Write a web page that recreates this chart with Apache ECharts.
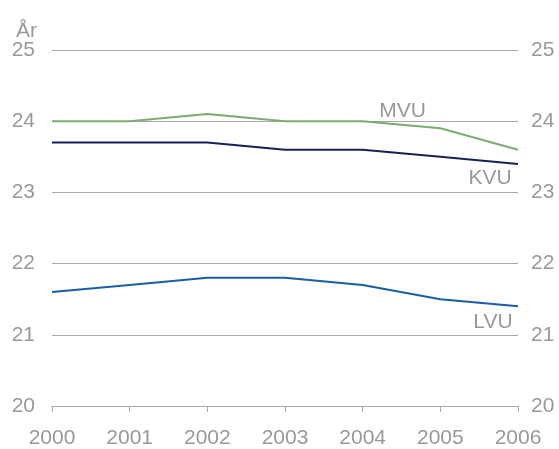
<!DOCTYPE html>
<html>
<head>
<meta charset="utf-8">
<script src="https://cdn.jsdelivr.net/npm/echarts@6/dist/echarts.min.js"></script>
<style>
  html, body { margin: 0; padding: 0; background: #fff; }
  #chart { width: 559px; height: 449px; }
</style>
</head>
<body>
<div id="chart"></div>
<script>
var years = ['2000', '2001', '2002', '2003', '2004', '2005', '2006'];
var mvu = [24.0, 24.0, 24.1, 24.0, 24.0, 23.9, 23.6];
var kvu = [23.7, 23.7, 23.7, 23.6, 23.6, 23.5, 23.4];
var lvu = [21.6, 21.7, 21.8, 21.8, 21.7, 21.5, 21.4];

var myChart = echarts.init(document.getElementById('chart'));

var grey = '#999999';
var font = 'Liberation Sans, Arial, sans-serif';
var fs = 21;

// series name label, anchored at a category index and shifted sideways
var label_point = function(text, idx, y, dx){
    return {
        symbol: 'circle',
        symbolSize: 0,
        silent: true,
        data: [{
            coord: [idx, y],
            value: text,
            label: {
                show: true,
                position: 'inside',
                offset: [dx, 0],
                formatter: text,
                color: grey,
                fontSize: fs,
                fontFamily: font
            }
        }]
    };
};

var option = {
    animation: false,
    grid: {left: 52, right: 41, top: 50, bottom: 41},
    title: {
        text: 'År',
        left: 11,
        top: 16,
        textStyle: {color: grey, fontSize: fs, fontWeight: 'normal', fontFamily: font}
    },
    xAxis: {
        type: 'category',
        data: years,
        boundaryGap: false,
        axisLine: {lineStyle: {color: '#aaaaaa'}},
        axisTick: {show: true, length: 6, lineStyle: {color: '#aaaaaa'}},
        axisLabel: {color: grey, fontSize: fs, fontFamily: font, margin: 22}
    },
    yAxis: [
        {
            type: 'value', min: 20, max: 25, interval: 1, position: 'left',
            axisLine: {show: false}, axisTick: {show: false},
            axisLabel: {color: grey, fontSize: fs, fontFamily: font, margin: 17},
            splitLine: {lineStyle: {color: '#aaaaaa'}}
        },
        {
            type: 'value', min: 20, max: 25, interval: 1, position: 'right',
            axisLine: {show: false}, axisTick: {show: false},
            axisLabel: {color: grey, fontSize: fs, fontFamily: font, margin: 13},
            splitLine: {show: false}
        }
    ],
    series: [
        {
            name: 'MVU', type: 'line', data: mvu, symbol: 'none',
            lineStyle: {color: '#7aae70', width: 2},
            markPoint: label_point('MVU', 4, 24.14, 40)
        },
        {
            name: 'KVU', type: 'line', data: kvu, symbol: 'none',
            lineStyle: {color: '#14215a', width: 2},
            markPoint: label_point('KVU', 6, 23.2, -28)
        },
        {
            name: 'LVU', type: 'line', data: lvu, symbol: 'none',
            lineStyle: {color: '#1a5ea8', width: 2},
            markPoint: label_point('LVU', 6, 21.18, -25)
        }
    ]
};

myChart.setOption(option);
</script>
</body>
</html>
